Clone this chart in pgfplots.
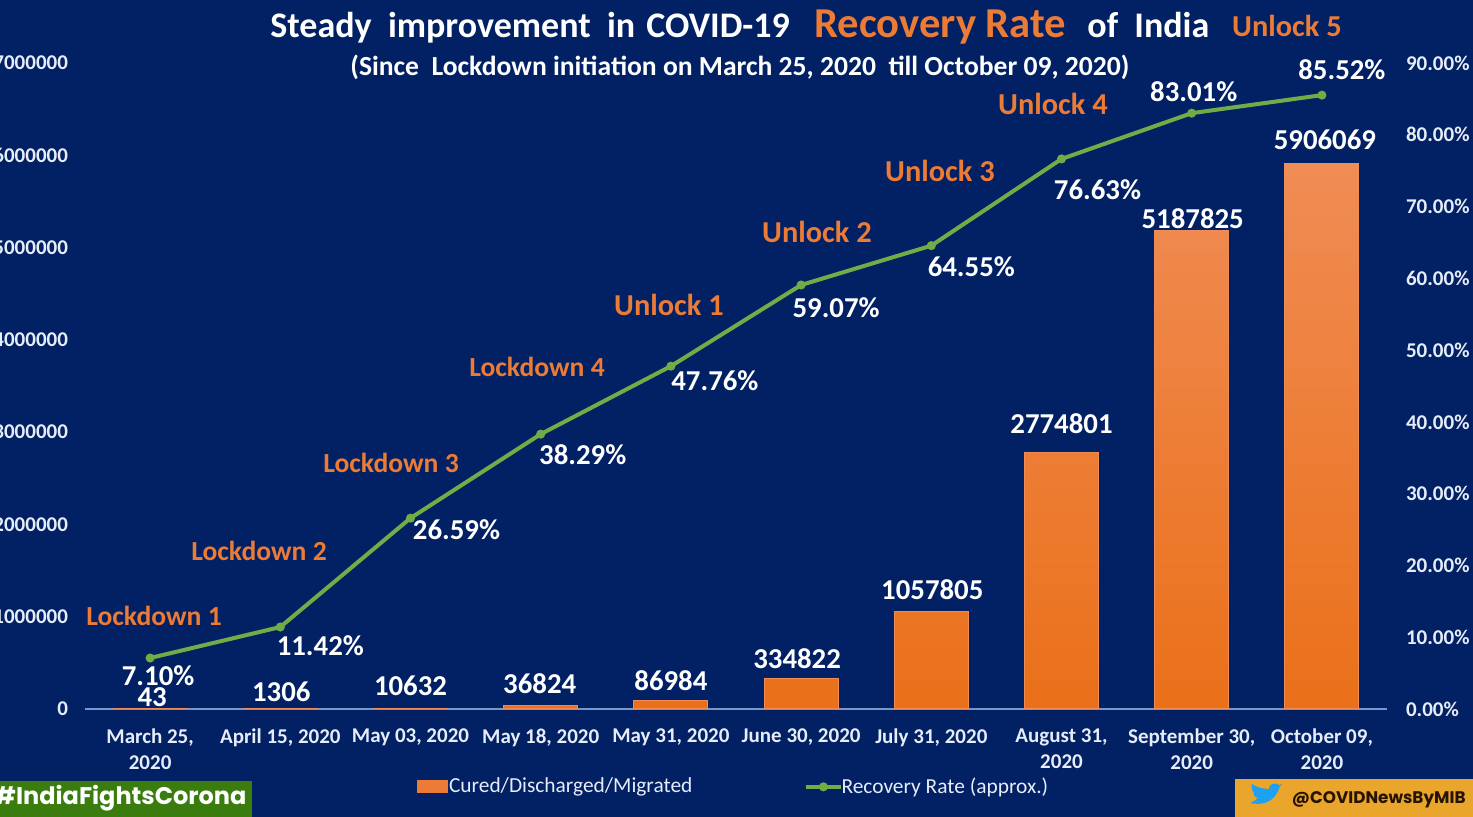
\documentclass[border=0pt]{standalone}
\usepackage{pgfplots}
\usepackage{fontspec}
\pgfplotsset{compat=1.18}
\setmainfont{Carlito}
\newfontfamily\pop{Poppins}

\definecolor{bg}{HTML}{012164}
\definecolor{barTop}{HTML}{F08C55}
\definecolor{barBot}{HTML}{EA7019}
\definecolor{lineg}{HTML}{70AD47}
\definecolor{orangetxt}{HTML}{EB7B35}
\definecolor{axisline}{HTML}{7A96C8}
\definecolor{ticktxt}{HTML}{E6ECF8}
\definecolor{taggreen}{HTML}{3A7D0E}
\definecolor{tagorange}{HTML}{E9A52C}
\definecolor{bird}{HTML}{1DA1F2}

\newcommand{\bt}[1]{\fontsize{#1}{#1}\selectfont\bfseries}

\begin{document}
\begin{tikzpicture}
\useasboundingbox (0,0) rectangle (736.5pt,408.5pt);
\clip (0,0) rectangle (736.5pt,408.5pt);
\fill[bg] (0,0) rectangle (736.5pt,408.5pt);

\begin{axis}[
    at={(42.5pt,54pt)}, anchor=south west,
    scale only axis,
    width=651pt, height=323pt,
    xmin=-0.5, xmax=9.5,
    ymin=0, ymax=7000000,
    axis x line*=bottom,
    axis y line*=left,
    x axis line style={draw=axisline, line width=0.6pt, -},
    y axis line style={draw=none},
    major tick length=0pt,
    xtick={0,...,9},
    xticklabels={{March 25,\\2020},{April 15, 2020},{May 03, 2020},{May 18, 2020},{May 31, 2020},{June 30, 2020},{July 31, 2020},{August 31,\\2020},{September 30,\\2020},{October 09,\\2020}},
    xticklabel style={align=center, text=ticktxt, font=\fontsize{10.5}{13}\selectfont\bfseries, anchor=north, yshift=-6.5pt},
    ytick={0,1000000,...,7000000},
    scaled y ticks=false,
    yticklabel style={text=ticktxt, font=\bt{10.5}, xshift=-5pt, /pgf/number format/fixed, /pgf/number format/1000 sep={}, /pgf/number format/assume math mode=true},
    clip=false,
]
% dx, dy: label offset from the point, in reference pixels
\addplot[
    ybar, bar width=37pt, bar shift=0pt, draw=barTop, line width=0.5pt,
    top color=barTop, bottom color=barBot,
    point meta=explicit symbolic,
    visualization depends on={value \thisrow{dx} \as \lx},
    visualization depends on={value \thisrow{dy} \as \ly},
    nodes near coords,
    every node near coord/.append style={
        anchor=center, inner sep=0pt, text=white, font=\bt{14.4},
        xshift=\lx*0.5pt, yshift=\ly*0.5pt},
] table[x=x, y=y, meta=y] {
x y dx dy
0 43 2 12
1 1306 1 17
2 10632 0 22
3 36824 -1 22
4 86984 0 20
5 334822 -4 19
6 1057805 1 22
7 2774801 0 29
8 5187825 1 12
9 5906069 3 24
};
\end{axis}

\begin{axis}[
    at={(42.5pt,54pt)}, anchor=south west,
    scale only axis,
    width=651pt, height=323pt,
    xmin=-0.5, xmax=9.5,
    ymin=0, ymax=90,
    axis x line=none,
    axis y line*=right,
    y axis line style={draw=none},
    major tick length=0pt,
    ytick={0,10,...,90},
    yticklabel={\pgfmathprintnumber[fixed, fixed zerofill, precision=2, assume math mode=true]{\tick}\%},
    yticklabel style={text=ticktxt, font=\bt{10.5}, xshift=6pt},
    clip=false,
    legend columns=2,
    legend style={
        at={(0.499,-0.1205)}, anchor=center, draw=none, fill=none,
        text=ticktxt, font=\fontsize{10.7}{12}\selectfont,
        /tikz/every odd column/.append style={column sep=1pt},
        /tikz/every even column/.append style={column sep=54pt},
        inner sep=0pt,
    },
]
\addlegendimage{legend image code/.code={\fill[orangetxt] (0cm,-3pt) rectangle (15pt,3pt);}}
\addlegendentry{\hspace{-2.5pt}Cured/Discharged/Migrated}
\addplot[
    color=lineg, line width=2pt,
    mark=*, mark size=1.2pt, mark options={fill=lineg, draw=lineg},
    point meta=y,
    visualization depends on={value \thisrow{dx} \as \lx},
    visualization depends on={value \thisrow{dy} \as \ly},
    nodes near coords={\pgfmathprintnumber[fixed, fixed zerofill, precision=2, assume math mode=true]{\pgfplotspointmeta}\%},
    every node near coord/.append style={
        anchor=center, inner sep=0pt, text=white, font=\bt{14.4},
        xshift=\lx*0.5pt, yshift=\ly*0.5pt},
] table[x=x, y=y] {
x y dx dy
0 7.10 8 -18
1 11.42 40 -19
2 26.59 46 -12
3 38.29 42 -21
4 47.76 44 -15
5 59.07 35 -23
6 64.55 40 -21
7 76.63 36 -31
8 83.01 2 21
9 85.52 20 25
};
\addlegendentry{\hspace{-3.5pt}Recovery Rate (approx.)}
\end{axis}

% titles
\node[anchor=base west, inner sep=0pt, text=white, font=\bt{18}] at (135pt,389.5pt) {Steady\ \ improvement\ \ in\hspace{1.5pt} COVID-19};
\node[anchor=base west, inner sep=0pt, text=orangetxt, font=\bt{21.3}] at (407pt,389.5pt) {Recovery Rate};
\node[anchor=base west, inner sep=0pt, text=white, font=\bt{18}] at (543.5pt,389.5pt) {of\ \ India};
\node[anchor=base west, inner sep=0pt, text=white, font=\bt{13.8}] at (175pt,370.5pt) {(Since\ \ Lockdown initiation on March 25, 2020\ \ till October 09, 2020)};

% phase labels
\foreach \tx/\px/\py/\fs in {Lockdown 1/154/616/13.8, Lockdown 2/259/551/13.8, Lockdown 3/391/463/13.8, Lockdown 4/537/367/13.8, Unlock 1/669/305/15.2, Unlock 2/817/232/15.2, Unlock 3/940/171/15.2, Unlock 4/1053/104/15.2, Unlock 5/1287/26/15.2}
    \node[text=orangetxt, font=\bt{\fs}] at (\px*0.5pt, 408.5pt-\py*0.5pt) {\tx};

% footer tags
\fill[taggreen] (0,0) rectangle (126pt,18pt);
\node[anchor=west, inner sep=0pt, text=white, font=\pop\bfseries\fontsize{12}{12}\selectfont] at (-3pt,9.5pt) {\#IndiaFightsCorona};
\fill[tagorange] (617.5pt,0) rectangle (736.5pt,19pt);
\fill[bird] (625pt,7pt) .. controls (630pt,6pt) and (637pt,6pt) .. (640pt,15.5pt)
    -- (641pt,16.5pt) -- (639.5pt,16pt) .. controls (638pt,17.5pt) and (634pt,16.5pt) .. (634.5pt,14pt)
    .. controls (631pt,14pt) and (628pt,15pt) .. (626pt,16.5pt)
    .. controls (625.5pt,14.5pt) and (626pt,13pt) .. (627pt,12pt)
    .. controls (626pt,11.5pt) and (628pt,9.5pt) .. (629pt,9.5pt)
    .. controls (628pt,8.5pt) and (626.5pt,7.5pt) .. (625pt,7pt) -- cycle;
\node[anchor=east, inner sep=0pt, text=black!85!orange, font=\pop\bfseries\fontsize{8.4}{8.4}\selectfont] at (733pt,8.5pt) {@COVIDNewsByMIB};
\end{tikzpicture}
\end{document}
